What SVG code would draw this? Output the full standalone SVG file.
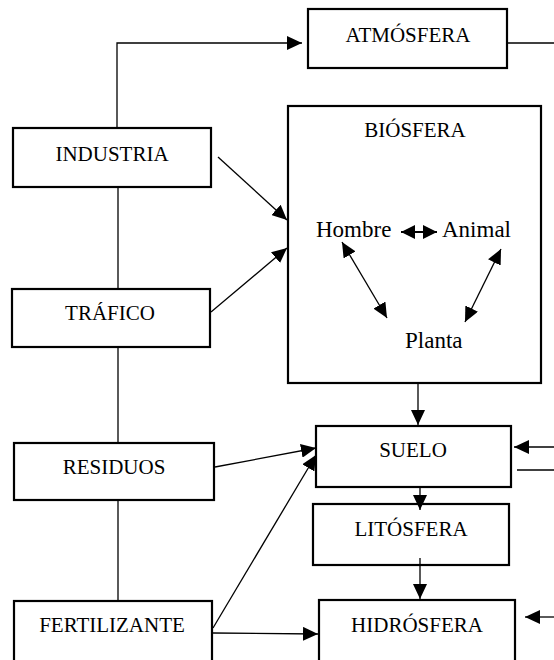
<svg xmlns="http://www.w3.org/2000/svg" width="554" height="660" viewBox="0 0 554 660">
<style>
.box{fill:#fff;stroke:#000;stroke-width:2.2}
.lbl{font-family:"Liberation Serif","Times New Roman",serif;font-size:21px;fill:#000;text-anchor:middle}
.in{font-family:"Liberation Serif","Times New Roman",serif;font-size:23px;fill:#000}
.ln{stroke:#000;stroke-width:1.3;fill:none}
.ar{marker-end:url(#ah)}
.dar{marker-start:url(#ah);marker-end:url(#ah)}
</style>
<defs>
<marker id="ah" markerUnits="userSpaceOnUse" markerWidth="16" markerHeight="14" refX="15" refY="7" orient="auto-start-reverse">
<path d="M0,0 L15,7 L0,14 z" fill="#000"/>
</marker>
<marker id="sh" markerUnits="userSpaceOnUse" markerWidth="15" markerHeight="15" refX="14" refY="7.5" orient="auto-start-reverse">
<path d="M0,0.5 L14,7.5 L0,14.5 z" fill="#000"/>
</marker>
</defs>
<g id="atmosfera"><rect class="box" x="308" y="9" width="199" height="59"/><text class="lbl" x="408" y="42">ATMÓSFERA</text></g>
<g id="industria"><rect class="box" x="13" y="128" width="198" height="59"/><text class="lbl" x="112" y="161">INDUSTRIA</text></g>
<g id="trafico"><rect class="box" x="12" y="289" width="198" height="58"/><text class="lbl" x="110" y="320">TRÁFICO</text></g>
<g id="residuos"><rect class="box" x="14" y="443" width="200" height="57"/><text class="lbl" x="114" y="474">RESIDUOS</text></g>
<g id="fertilizante"><rect class="box" x="14" y="601" width="198" height="70"/><text class="lbl" x="112" y="632">FERTILIZANTE</text></g>
<g id="biosfera">
<rect class="box" x="288" y="106" width="253" height="277"/>
<text class="lbl" x="415" y="137">BIÓSFERA</text>
<text class="in" x="316" y="237">Hombre</text>
<text class="in" x="442" y="237">Animal</text>
<text class="in" x="405" y="348">Planta</text>
</g>
<g id="suelo"><rect class="box" x="316" y="426" width="195" height="61"/><text class="lbl" x="413" y="457">SUELO</text></g>
<g id="litosfera"><rect class="box" x="313" y="504" width="196" height="61"/><text class="lbl" x="411" y="536">LITÓSFERA</text></g>
<g id="hidrosfera"><rect class="box" x="319" y="600" width="196" height="70"/><text class="lbl" x="417" y="632">HIDRÓSFERA</text></g>
<g id="connectors">
<polyline class="ln ar" points="117,128 117,43 302,43"/>
<line class="ln" x1="507" y1="43" x2="554" y2="43"/>
<line class="ln" x1="118" y1="187" x2="118" y2="289"/>
<line class="ln" x1="118" y1="347" x2="118" y2="443"/>
<line class="ln" x1="118" y1="500" x2="118" y2="601"/>
<line class="ln ar" x1="218" y1="157" x2="287" y2="220"/>
<line class="ln ar" x1="211" y1="312" x2="287" y2="248"/>
<line class="ln ar" x1="418" y1="384" x2="418" y2="425"/>
<line class="ln ar" x1="215" y1="467" x2="316" y2="448"/>
<line class="ln ar" x1="213" y1="628" x2="316" y2="455"/>
<line class="ln ar" x1="213" y1="633" x2="318" y2="634"/>
<line class="ln ar" x1="554" y1="447" x2="514" y2="447"/>
<line class="ln" x1="517" y1="470" x2="554" y2="470"/>
<line class="ln ar" x1="420" y1="488" x2="420" y2="510"/>
<line class="ln ar" x1="420" y1="558" x2="420" y2="599"/>
<line class="ln ar" x1="554" y1="617" x2="525" y2="617"/>
<line class="ln" style="marker-start:url(#sh);marker-end:url(#sh);stroke-width:2" x1="401" y1="232" x2="437" y2="232"/>
<line class="ln dar" x1="342" y1="242" x2="387" y2="318"/>
<line class="ln dar" x1="501" y1="249" x2="465" y2="322"/>
</g>
</svg>
